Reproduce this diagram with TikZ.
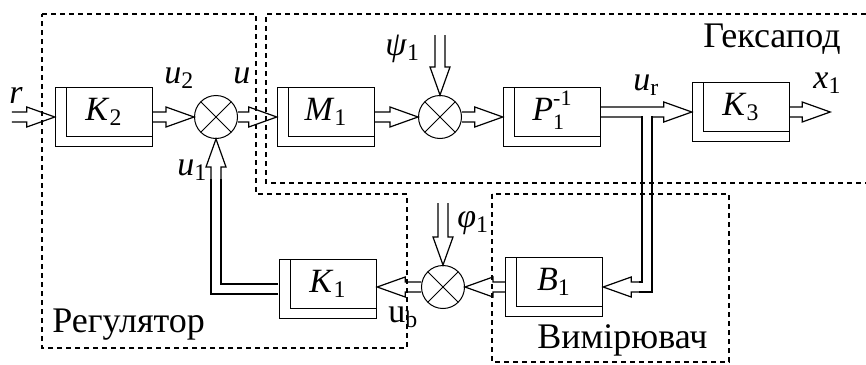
\documentclass[tikz,border=0pt]{standalone}
\usepackage{fontspec}
\setmainfont{Liberation Serif}
\usetikzlibrary{calc,positioning}
\newcommand{\mi}[2]{\textit{#1}\textsubscript{#2}}
\tikzset{
  blk/.style={draw, line width=0.7pt, minimum width=48.5pt, minimum height=29.5pt,
              inner sep=0pt, text height=9pt, text depth=6pt,
              font=\fontsize{17}{20}\selectfont,
              path picture={\draw[line width=0.7pt]
                ([xshift=5.5pt]path picture bounding box.north west)
                |- ([yshift=5pt]path picture bounding box.south east);}},
  sumj/.style={circle, draw, line width=0.5pt, minimum size=21.5pt, inner sep=0pt,
               path picture={\draw[line width=0.5pt]
                 (path picture bounding box.north west) -- (path picture bounding box.south east)
                 (path picture bounding box.north east) -- (path picture bounding box.south west);}},
  bigarrow/.style={line width=0.6pt, to path={
      ($(\tikztostart)!2.5pt!90:(\tikztotarget)$)
      -- ($(\tikztotarget)!14pt!(\tikztostart)!2.5pt!-90:(\tikztostart)$)
      -- ($(\tikztotarget)!14pt!(\tikztostart)!5pt!-90:(\tikztostart)$)
      -- (\tikztotarget)
      -- ($(\tikztotarget)!14pt!(\tikztostart)!5pt!90:(\tikztostart)$)
      -- ($(\tikztotarget)!14pt!(\tikztostart)!2.5pt!90:(\tikztostart)$)
      -- ($(\tikztostart)!2.5pt!-90:(\tikztotarget)$)}},
  pipe/.style={line width=0.6pt, double distance=4.4pt},
  region/.style={line width=0.7pt, dash pattern=on 2.5pt off 2pt},
  sig/.style={font=\fontsize{17}{20}\selectfont, inner sep=0pt, anchor=base west},
  regname/.style={font=\fontsize{18}{20}\selectfont, inner sep=0pt, anchor=base west},
}

\begin{document}
\begin{tikzpicture}[x=0.5pt, y=-0.5pt]
  \useasboundingbox (0,0) rectangle (866,364);

  % --- forward path ---------------------------------------------------------
  \node[blk]  (K2) at (104,117) {\mi{K}{2}};
  \node[sumj] (S1) at (216,117) {};
  \node[blk]  (M1) at (326,117) {\mi{M}{1}};
  \node[sumj] (S2) at (440,117) {};
  \node[blk]  (P1) at (552,117) {\textit{P}\rlap{\raisebox{-4.5pt}{\fontsize{11}{12}\selectfont 1}}%
                                 \raisebox{7.5pt}{\fontsize{11}{12}\selectfont -1}};
  \node[blk]  (K3) at (741,112) {\mi{K}{3}};

  % --- feedback path --------------------------------------------------------
  \node[blk]  (K1) at (328,289) {\mi{K}{1}};
  \node[sumj] (S3) at (443,287) {};
  \node[blk]  (B1) at (554,287) {\mi{B}{1}};

  % free ends and bends
  \coordinate (rin)  at ([xshift=-21.5pt]K2.west);
  \coordinate (xout) at ([xshift=20pt]K3.east);
  \coordinate (psin) at ([yshift=30pt]S2.north);
  \coordinate (phin) at ([yshift=31pt]S3.north);
  \coordinate (jn)   at (647,116.4);
  \coordinate (jb)   at ([xshift=18pt]B1.east);
  \coordinate (fb)   at ([yshift=-20pt]S1.south);

  % --- connectors -----------------------------------------------------------
  \draw[bigarrow] (rin) to (K2.west);
  \draw[bigarrow] (K2.east) to (S1.west);
  \draw[bigarrow] (S1.east) to (M1.west);
  \draw[bigarrow] (M1.east) to (S2.west);
  \draw[bigarrow] (psin) to (S2.north);
  \draw[bigarrow] (S2.east) to (P1.west);
  \draw[bigarrow] (P1.east |- K3.west) to (K3.west);
  \draw[bigarrow] (K3.east) to (xout);
  % branch down to the measuring block
  \draw[pipe] (jn) |- (jb);
  \draw[bigarrow] (jb) to (B1.east);
  \draw[bigarrow] (B1.west) to (S3.east);
  \draw[bigarrow] (phin) to (S3.north);
  \draw[bigarrow] (S3.west) to (S3.west -| K1.east);
  \draw[pipe, shorten <=0.35pt] (K1.west) -| (fb);
  \draw[bigarrow] (fb) to (S1.south);

  % --- signal labels --------------------------------------------------------
  \node[sig] (lr)   at (9,103)   {\textit{r}};
  \node[sig] (lu2)  at (164,83)  {\mi{u}{2}};
  \node[sig] (lu)   at (233,83)  {\textit{u}};
  \node[sig] (lu1)  at (177,175) {\mi{u}{1}};
  \node[sig] (lpsi) at (385,55)  {\mi{ψ}{1}};
  \node[sig] (lur)  at (633,90)  {\textit{u}\textsubscript{r}};
  \node[sig] (lx1)  at (813,88)  {\mi{x}{1}};
  \node[sig] (lphi) at (457,227) {\mi{φ}{1}};
  \node[sig] (lub)  at (388,322) {u\textsubscript{b}};

  % --- dashed regions -------------------------------------------------------
  \draw[region] (42,14) -- (256,14) -- (256,194) -- (407,194) -- (407,348)
    -- (42,348) -- cycle;
  \draw[region] (866,14) -- (266,14) -- (266,183) -- (866,183);
  \draw[region] (492,194) rectangle (729,362);
  \node[regname] (nreg) at (52,332)  {Регулятор};
  \node[regname] (nhex) at (703,47)  {Гексапод};
  \node[regname] (nvim) at (537,348) {Вимірювач};
\end{tikzpicture}
\end{document}
